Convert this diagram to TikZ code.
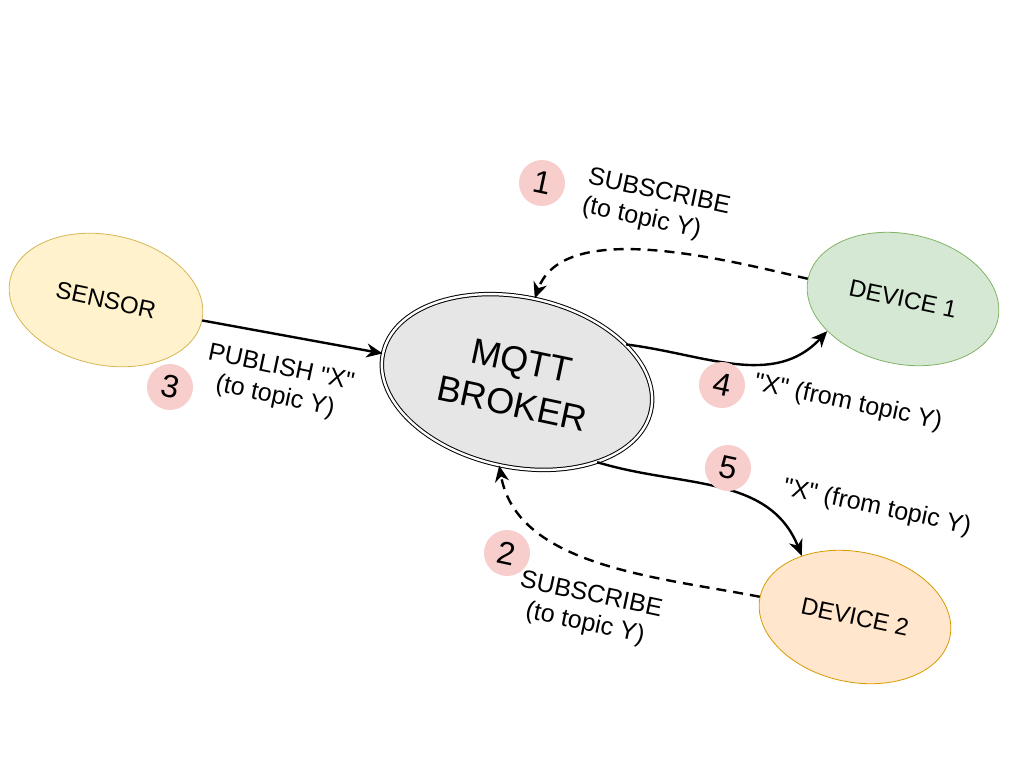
\documentclass[tikz,border=0pt]{standalone}
\usepackage{fontspec}
\setmainfont{Liberation Sans}[Ligatures=TeXOff]
\usetikzlibrary{shapes.geometric, arrows.meta}

\definecolor{sensorfill}{HTML}{FFF2CC}
\definecolor{sensorline}{HTML}{D6B656}
\definecolor{devonefill}{HTML}{D5E8D4}
\definecolor{devoneline}{HTML}{82B366}
\definecolor{devtwofill}{HTML}{FFE6CC}
\definecolor{devtwoline}{HTML}{D79B00}
\definecolor{brokerfill}{HTML}{E6E6E6}
\definecolor{badgepink}{HTML}{F8CECC}

\begin{document}
\begin{tikzpicture}[x=0.5pt, y=-0.5pt,
    blob/.style={ellipse, draw, inner sep=0pt, rotate=-12, font=\fontsize{12}{14}\selectfont},
    badge/.style={circle, fill=badgepink, minimum size=23pt, inner sep=0pt, rotate=-12, font=\fontsize{16}{18}\selectfont},
    lbl/.style={rotate=-12, align=center, inner sep=0pt, font=\fontsize{12.5}{14.5}\selectfont},
    msg/.style={line width=1.2pt, -{Stealth[length=8pt, width=7pt, inset=2.5pt]}},
    sub/.style={msg, dash pattern=on 5pt off 3.5pt}]
        \useasboundingbox (0,0) rectangle (1025,768);
        % clients and broker
        \node[blob, fill=sensorfill, draw=sensorline, minimum width=98pt, minimum height=65pt] (sensor) at (106,300) {SENSOR};
        \node[blob, fill=brokerfill, draw=black, double, double distance=1.2pt, line width=0.5pt, minimum width=137pt, minimum height=85pt, align=center, font=\fontsize{18}{22}\selectfont] (broker) at (517,382) {MQTT\\BROKER};
        \node[blob, fill=devonefill, draw=devoneline, minimum width=97pt, minimum height=65pt] (dev1) at (903,299) {DEVICE 1};
        \node[blob, fill=devtwofill, draw=devtwoline, minimum width=97pt, minimum height=65pt] (dev2) at (855,617) {DEVICE 2};
        % messages
        \draw[msg] (sensor.east) -- (broker.west);
        \draw[sub] (dev1.west) to[out=167, in=70, looseness=0.8] (broker.north);
        \draw[sub] (dev2.west) to[out=169, in=-80, looseness=0.9] (broker.south);
        \draw[msg] (broker.31) to[out=-7, in=227] (dev1.215);
        \draw[msg] (broker.-33) to[out=-17, in=112] (dev2.143);
        % step numbers
        \node[badge] (n1) at (542,183) {1};
        \node[badge] (n2) at (507,553) {2};
        \node[badge] (n3) at (170,387) {3};
        \node[badge] (n4) at (722,385) {4};
        \node[badge] (n5) at (728,468) {5};
        \node[lbl, align=left] (t1) at (656,207) {SUBSCRIBE\\(to topic Y)};
        \node[lbl] (t2) at (588,610) {SUBSCRIBE\\(to topic Y)};
        \node[lbl] (t3) at (278,383) {PUBLISH "X"\\(to topic Y)};
        \node[lbl] (t4) at (848,403) {"X" (from topic Y)};
        \node[lbl] (t5) at (877,508) {"X" (from topic Y)};
\end{tikzpicture}
\end{document}
